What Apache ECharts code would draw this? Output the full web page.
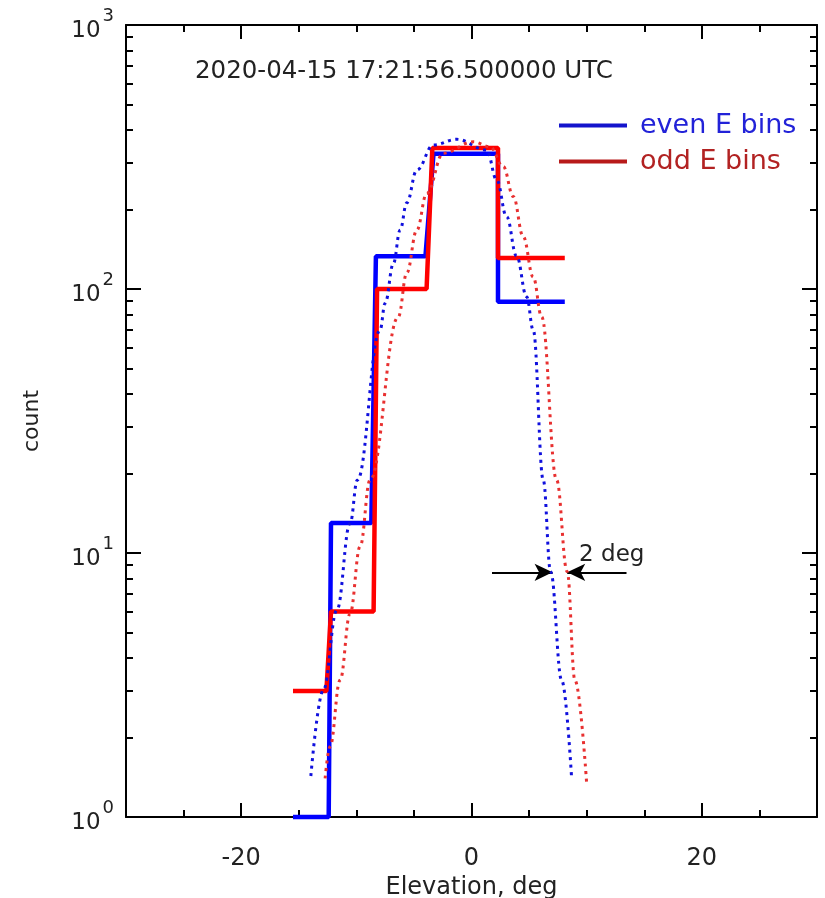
<!DOCTYPE html>
<html>
<head>
	<meta charset="utf-8" />
	<title>Elevation histogram</title>
	<script type="text/javascript" src="https://cdn.jsdelivr.net/npm/echarts@6/dist/echarts.min.js"></script>
	<style type="text/css">
		html, body { margin: 0; padding: 0; background: #fff; }
		#container { width: 825px; height: 898px; }
	</style>
</head>
<body>
<div id="container"></div>
<script type="text/javascript">
	// histogram bins (left / right edge, deg) and counts
	var evenLeft   = [-15.5, -12.2, -8.3, -3.3, 2.3];
	var evenRight  = [-12.4, -8.7, -4.0, 2.3, 8.1];
	var evenCounts = [1, 13, 133, 325, 89.5];

	var oddLeft    = [-15.5, -12.2, -8.2, -3.4, 2.3];
	var oddRight   = [-12.6, -8.5, -3.9, 2.3, 8.1];
	var oddCounts  = [3, 6, 100, 342, 131];

	// dotted fit curves
	var evenFitX = [-13.95, -12.86, -11.69, -10.54, -9.91, -7.94, -7.50, -6.78, -6.20, -5.62, -4.75, -3.31, -1.28, 1.32, 2.19, 3.05, 3.92, 4.79, 5.36, 6.23, 6.87, 7.83, 8.69];
	var evenFitY = [1.43, 3.03, 6.08, 12.96, 18.9, 69.9, 88.3, 125, 167, 212, 282, 351, 369, 336, 259, 188, 133, 93.5, 69.9, 18.9, 8.5, 3.30, 1.41];
	var oddFitX  = [-12.71, -12.28, -11.41, -10.54, -9.67, -8.81, -6.35, -5.62, -4.75, -3.89, -2.45, 0.16, 1.60, 2.76, 3.63, 4.49, 5.36, 6.09, 7.39, 8.31, 8.98, 9.99];
	var oddFitY  = [1.40, 1.85, 3.30, 5.91, 10.6, 18.9, 78.5, 115, 167, 230, 327, 361, 346, 291, 224, 158, 111, 78.5, 18.9, 8.5, 3.30, 1.36];

	// axis ticks
	var xMajorTicks = [-20, 0, 20];
	var yMinorTicks = [2, 3, 4, 5, 6, 7, 8, 9, 20, 30, 40, 50, 60, 70, 80, 90, 200, 300, 400, 500, 600, 700, 800, 900];

	// "2 deg" annotation
	var arrowY = 8.45;
	var arrowLeft = [1.78, 7.04];
	var arrowRight = [13.46, 8.31];
	var noteAt = [9.3, 9.85];

	function steps(left, right, counts) {
		var out = [];
		for (var i = 0; i < counts.length; i++) {
			out.push([left[i], counts[i]]);
			out.push([right[i], counts[i]]);
		}
		return out;
	}
	function pairs(xs, ys) {
		return xs.map(function (x, i) { return [x, ys[i]]; });
	}

	var FONT = 'DejaVu Sans';
	var chart = echarts.init(document.getElementById('container'));

	var frameLine = { show: true, onZero: false, lineStyle: { color: '#000', width: 2 } };
	var hiddenLine = { show: false, onZero: false };
	var majorTick = { show: true, inside: true, length: 14, lineStyle: { color: '#000', width: 2 } };
	var minorTick = { show: true, inside: true, length: 7, lineStyle: { color: '#000', width: 2 } };

	var options = {
		backgroundColor: '#fff',
		animation: false,
		textStyle: { fontFamily: FONT },
		title: {
			text: '2020-04-15 17:21:56.500000 UTC',
			left: 190, top: 54,
			textStyle: { fontFamily: FONT, fontSize: 24.5, fontWeight: 'normal', color: '#222' }
		},
		legend: {
			orient: 'vertical',
			left: 554, top: 107,
			icon: 'rect',
			itemWidth: 68, itemHeight: 4,
			itemGap: 9,
			textStyle: { fontFamily: FONT, fontSize: 27, padding: [0, 0, 0, 8] },
			data: [
				{ name: 'even E bins', itemStyle: { color: '#1414cc' }, textStyle: { color: '#2222d8' } },
				{ name: 'odd E bins', itemStyle: { color: '#b81a1a' }, textStyle: { color: '#b22222' } }
			]
		},
		grid: [
			{ left: 126, right: 8, top: 25, bottom: 81, outerBoundsMode: 'none', containLabel: false },
			{ left: 126, right: 8, top: 25, bottom: 81, outerBoundsMode: 'none', containLabel: false }
		],
		xAxis: [
			{
				type: 'value', gridIndex: 0, position: 'bottom', min: -30, max: 30,
				name: 'Elevation, deg', nameLocation: 'middle', nameGap: 59,
				nameTextStyle: { fontFamily: FONT, fontSize: 24, color: '#222' },
				axisLine: frameLine,
				axisTick: Object.assign({ customValues: xMajorTicks }, majorTick),
				axisLabel: { customValues: xMajorTicks, margin: 30, fontFamily: FONT, fontSize: 24, color: '#222' },
				splitLine: { show: false }
			},
			{
				type: 'value', gridIndex: 0, position: 'top', min: -30, max: 30,
				axisLine: frameLine,
				axisTick: Object.assign({ customValues: xMajorTicks }, majorTick),
				axisLabel: { show: false },
				splitLine: { show: false }
			},
			{
				type: 'value', gridIndex: 1, position: 'bottom', min: -30, max: 30, interval: 5,
				axisLine: hiddenLine, axisTick: minorTick,
				axisLabel: { show: false }, splitLine: { show: false }
			},
			{
				type: 'value', gridIndex: 1, position: 'top', min: -30, max: 30, interval: 5,
				axisLine: hiddenLine, axisTick: minorTick,
				axisLabel: { show: false }, splitLine: { show: false }
			}
		],
		yAxis: [
			{
				type: 'log', logBase: 10, gridIndex: 0, position: 'left', min: 1, max: 1000,
				name: 'count', nameLocation: 'middle', nameGap: 83,
				nameTextStyle: { fontFamily: FONT, fontSize: 22, color: '#222' },
				axisLine: frameLine,
				axisTick: Object.assign({}, majorTick, { length: 15 }),
				axisLabel: {
					margin: 12,
					formatter: function (v) {
						return '{b|10}{s|' + Math.round(Math.log10(v)) + '}';
					},
					rich: {
						b: { fontFamily: FONT, fontSize: 23, color: '#222', lineHeight: 36, verticalAlign: 'bottom' },
						s: { fontFamily: FONT, fontSize: 18, color: '#222', lineHeight: 18, verticalAlign: 'top', padding: [0, 0, 0, 2] }
					}
				},
				splitLine: { show: false }
			},
			{
				type: 'log', logBase: 10, gridIndex: 0, position: 'right', min: 1, max: 1000,
				axisLine: frameLine,
				axisTick: Object.assign({}, majorTick, { length: 15 }),
				axisLabel: { show: false },
				splitLine: { show: false }
			},
			{
				type: 'value', gridIndex: 1, position: 'left', min: 0, max: 3,
				axisLine: hiddenLine,
				axisTick: Object.assign({ customValues: yMinorTicks.map(Math.log10) }, minorTick),
				axisLabel: { show: false }, splitLine: { show: false }
			},
			{
				type: 'value', gridIndex: 1, position: 'right', min: 0, max: 3,
				axisLine: hiddenLine,
				axisTick: Object.assign({ customValues: yMinorTicks.map(Math.log10) }, minorTick),
				axisLabel: { show: false }, splitLine: { show: false }
			}
		],
		series: [
			{
				name: 'even E bins', type: 'line', xAxisIndex: 0, yAxisIndex: 0,
				data: steps(evenLeft, evenRight, evenCounts),
				symbol: 'none', clip: false, z: 3,
				lineStyle: { color: '#0000ff', width: 4.5 },
				itemStyle: { color: '#0000ff' },
				markLine: {
					silent: true, symbol: ['none', 'arrow'], symbolSize: [13, 18],
					lineStyle: { color: '#000', width: 2, type: 'solid' },
					label: { show: false },
					data: [
						[{ coord: [arrowLeft[0], arrowY] }, { coord: [arrowLeft[1], arrowY] }],
						[{ coord: [arrowRight[0], arrowY] }, { coord: [arrowRight[1], arrowY] }]
					]
				},
				markPoint: {
					silent: true, symbol: 'circle', symbolSize: 1,
					itemStyle: { color: 'rgba(0,0,0,0)' },
					label: { show: true, position: 'right', distance: 0, formatter: '2 deg', fontFamily: FONT, fontSize: 23, color: '#222' },
					data: [{ coord: noteAt }]
				}
			},
			{
				name: 'odd E bins', type: 'line', xAxisIndex: 0, yAxisIndex: 0,
				data: steps(oddLeft, oddRight, oddCounts),
				symbol: 'none', clip: false, z: 4,
				lineStyle: { color: '#ff0000', width: 4.5 },
				itemStyle: { color: '#ff0000' }
			},
			{
				name: 'even fit', type: 'line', xAxisIndex: 0, yAxisIndex: 0,
				data: pairs(evenFitX, evenFitY),
				symbol: 'none', smooth: 0.4, smoothMonotone: 'x', z: 5,
				lineStyle: { color: '#1010dd', width: 3, type: [3, 4.5] }
			},
			{
				name: 'odd fit', type: 'line', xAxisIndex: 0, yAxisIndex: 0,
				data: pairs(oddFitX, oddFitY),
				symbol: 'none', smooth: 0.4, smoothMonotone: 'x', z: 5,
				lineStyle: { color: '#e83030', width: 3, type: [3, 4.5] }
			}
		]
	};

	chart.setOption(options);
</script>
</body>
</html>
